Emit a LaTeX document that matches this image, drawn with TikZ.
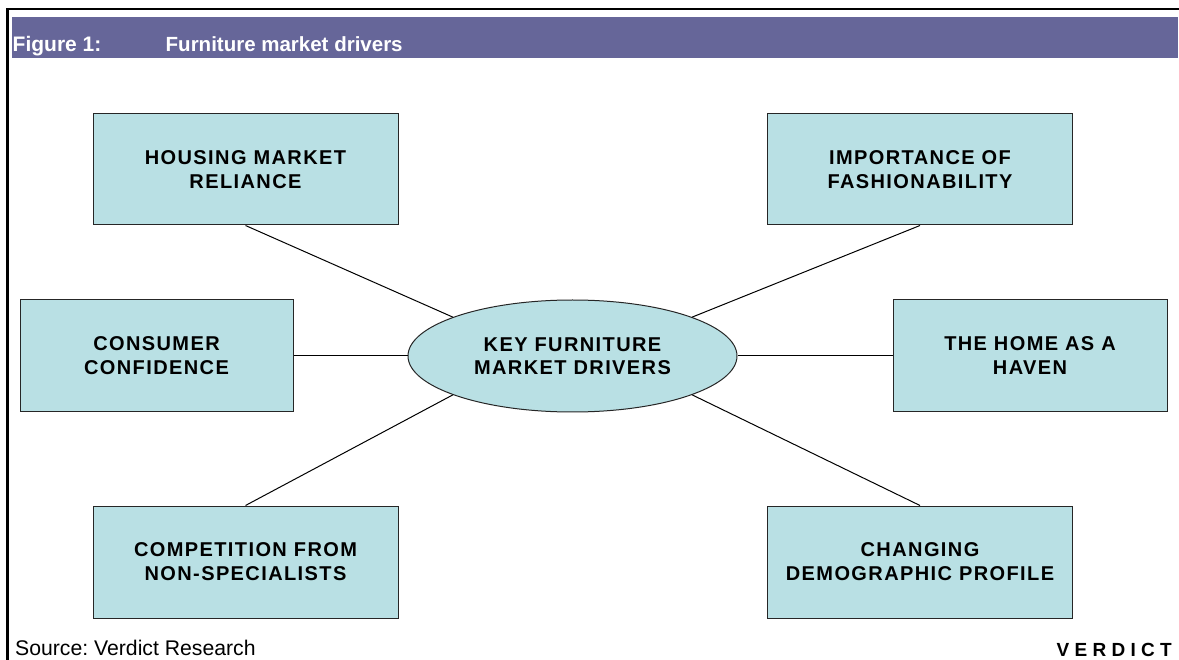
\documentclass[tikz,border=0pt]{standalone}
\usepackage{fontspec}
\setmainfont{Liberation Sans}
\newfontfamily\driverfont[LetterSpace=7]{Liberation Sans}
\usetikzlibrary{shapes.geometric}
\frenchspacing

\definecolor{barblue}{RGB}{102,102,153}
\definecolor{driverfill}{RGB}{185,224,228}

\tikzset{
    driver/.style = {draw=black!85, fill=driverfill, line width=1pt,
        minimum width=305pt, minimum height=111pt, align=center,
        font=\driverfont\bfseries\fontsize{20}{24}\selectfont},
    hub/.style = {ellipse, draw=black!85, fill=driverfill, line width=1pt,
        minimum width=329pt, minimum height=112pt, inner sep=0pt, align=center,
        font=\driverfont\bfseries\fontsize{20}{23}\selectfont},
    spoke/.style = {line width=1pt}
}

\begin{document}
\begin{tikzpicture}[x=1pt, y=-1pt]
    \useasboundingbox (0,0) rectangle (1179,660);
    \fill[white] (0,0) rectangle (1179,660);
    \draw[line width=2.2pt] (7.5,660) -- (7.5,9) -- (1179,9); % frame
    \fill[barblue] (12,17) rectangle (1178,58); % title bar
    \node[anchor=base west, inner sep=0pt, text=white, font=\bfseries\fontsize{21}{24}\selectfont] (fignum) at (12.5,52) {Figure 1:};
    \node[anchor=base west, inner sep=0pt, text=white, font=\bfseries\fontsize{20.5}{24}\selectfont] (figtitle) at (165.5,52) {Furniture market drivers};

    \node[hub] (key) at (572.5,356) {KEY FURNITURE\\MARKET DRIVERS};

    \node[driver] (housing) at (245.5,169.5) {HOUSING MARKET\\RELIANCE};
    \node[driver] (fashion) at (920,169.5) {IMPORTANCE OF\\FASHIONABILITY};
    \node[driver, minimum width=273pt, minimum height=112pt] (confidence) at (156.5,356) {CONSUMER\\CONFIDENCE};
    \node[driver, minimum width=274pt, minimum height=112pt] (haven) at (1030,356) {THE HOME AS A\\HAVEN};
    \node[driver, minimum height=112pt] (rivals) at (245.5,562) {COMPETITION FROM\\NON-SPECIALISTS};
    \node[driver, minimum height=112pt] (profile) at (920,562) {CHANGING\\DEMOGRAPHIC PROFILE};

    \draw[spoke] (housing.south) -- (key.162);
    \draw[spoke] (fashion.south) -- (key.18);
    \draw[spoke] (confidence.east) -- (key.west);
    \draw[spoke] (haven.west) -- (key.east);
    \draw[spoke] (rivals.north) -- (key.198);
    \draw[spoke] (profile.north) -- (key.342);

    \node[anchor=base west, inner sep=0pt, font=\fontsize{21.2}{24}\selectfont] (source) at (15,655) {Source: Verdict Research};
    \node[anchor=base east, inner sep=0pt, font=\bfseries\fontsize{19}{24}\selectfont] (brand) at (1172,656) {V E R D I C T};
\end{tikzpicture}
\end{document}
